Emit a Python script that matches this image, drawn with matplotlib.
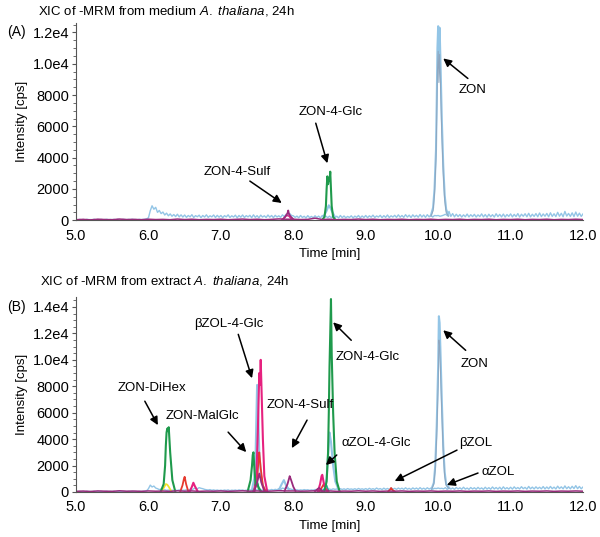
import numpy as np
import matplotlib
matplotlib.use("Agg")
import matplotlib.pyplot as plt
from matplotlib.ticker import FixedLocator, MultipleLocator

plt.rcParams['font.family'] = ['Liberation Sans', 'DejaVu Sans']
plt.rcParams['font.size'] = 9
plt.rcParams['mathtext.fontset'] = 'custom'
plt.rcParams['mathtext.rm'] = 'Liberation Sans'
plt.rcParams['mathtext.it'] = 'Liberation Sans:italic'

# colours of the MRM traces
c_blue = '#93c5e6'
c_steel = '#8ea6bf'
c_green = '#1f9a4c'
c_purple = '#9a2a7c'
c_pink = '#e6217f'
c_red = '#e63a2e'
c_yellow = '#f2e22a'
c_teal = '#2aa597'

# ---------------- (A) medium ----------------
# light blue baseline, sampled every 0.025 min from 5.000 to 12.000
a_blue_start, a_blue_step = 5.0, 0.025
a_blue_base = [40, 25, 50, 30, 45, 20, 55, 35, 40, 30, 60, 25, 45, 35, 50, 30, 40, 55, 30, 45,
               35, 50, 25, 60, 40, 30, 55, 45, 30, 50, 40, 65, 35, 45, 30, 55, 40, 50, 60, 90,
               150, 600, 920, 700, 820, 500, 620, 420, 520, 330, 450, 280, 400, 250, 360, 230, 380, 210, 340, 200,
               330, 180, 300, 210, 350, 170, 290, 220, 320, 160, 300, 200, 340, 180, 280, 210, 330, 170, 310, 190,
               300, 160, 290, 210, 340, 170, 280, 200, 320, 150, 300, 190, 330, 170, 290, 210, 310, 160, 340, 180,
               290, 150, 320, 200, 280, 170, 330, 190, 300, 160, 310, 200, 280, 180, 340, 220, 380, 260, 430, 300,
               280, 180, 260, 150, 300, 170, 250, 140, 290, 160, 240, 150, 280, 170, 260, 140, 300, 180, 260, 160,
               260, 150, 290, 170, 250, 140, 300, 160, 270, 150, 240, 170, 280, 140, 260, 180, 300, 150, 270, 170,
               300, 160, 280, 190, 320, 170, 270, 200, 310, 160, 290, 180, 330, 170, 280, 200, 310, 180, 340, 190,
               300, 180, 350, 200, 320, 170, 340, 210, 310, 190, 360, 200, 330, 180, 350, 210, 320, 200, 300, 280,
               300, 250, 280, 320, 380, 300, 560, 240, 420, 210, 380, 230, 360, 200, 340, 220, 390, 210, 350, 230,
               370, 200, 340, 230, 400, 210, 360, 190, 380, 220, 350, 200, 410, 230, 370, 210, 390, 200, 360, 240,
               400, 210, 370, 230, 420, 200, 380, 250, 410, 220, 440, 210, 380, 240, 420, 220, 460, 230, 400, 250,
               430, 220, 470, 240, 410, 230, 500, 250, 440, 220, 560, 260, 430, 240, 470, 230, 520, 250, 450, 240,
               400]
a_zon_t = [9.90, 9.93, 9.95, 9.97, 9.98, 9.99, 10.00, 10.01, 10.02, 10.03, 10.05, 10.07, 10.09, 10.11, 10.14]
a_zon_i = [300, 800, 2000, 4500, 7500, 11000, 12400, 10000, 12300, 10500, 6500, 3500, 1600, 700, 300]
a_zon2_i = [250, 600, 1700, 3900, 6500, 9500, 10800, 8800, 10600, 9000, 5500, 3000, 1300, 500, 250]
a_blue_glc_t = [8.42, 8.46, 8.49, 8.51, 8.53, 8.57]
a_blue_glc_i = [250, 600, 950, 800, 600, 250]
a_green_t = [8.40, 8.43, 8.45, 8.46, 8.47, 8.48, 8.49, 8.50, 8.51, 8.52, 8.53, 8.55, 8.58]
a_green_i = [30, 200, 900, 2000, 2800, 2300, 2600, 2500, 3100, 2000, 900, 200, 30]
# purple baseline, every 0.1 min from 5.0 to 12.0
a_purple_start, a_purple_step = 5.0, 0.1
a_purple_base = [30, 50, 20, 60, 40, 30, 70, 40, 50, 30,
                 60, 40, 50, 30, 70, 40, 60, 30, 50, 40,
                 60, 30, 50, 70, 40, 60, 30, 50, 80, 60,
                 60, 40, 50, 130, 40, 60, 30, 50, 40, 70,
                 40, 60, 30, 50, 40, 60, 30, 50, 40, 60,
                 30, 50, 40, 60, 30, 50, 40, 60, 30, 50,
                 40, 60, 30, 50, 40, 60, 30, 50, 40, 60, 40]
a_sulf_t = [7.86, 7.90, 7.92, 7.93, 7.94, 7.96, 8.00]
a_sulf_i = [60, 300, 450, 620, 400, 250, 60]
a_pink_t = [7.84, 7.89, 7.91, 7.94, 7.98]
a_pink_i = [40, 200, 320, 250, 40]

# ---------------- (B) extract ----------------
b_blue_start, b_blue_step = 5.0, 0.025
b_blue_base = [40, 25, 50, 30, 45, 20, 55, 35, 40, 30, 55, 25, 45, 35, 50, 30, 40, 55, 30, 45,
               35, 50, 25, 55, 40, 30, 50, 45, 30, 50, 40, 60, 35, 45, 30, 55, 40, 50, 60, 90,
               250, 520, 380, 450, 300, 250, 180, 220, 140, 170, 120, 150, 100, 140, 110, 130, 120, 160, 110, 140,
               130, 170, 140, 200, 160, 250, 300, 240, 330, 280, 250, 200, 170, 150, 180, 130, 160, 120, 150, 110,
               140, 110, 150, 120, 160, 100, 140, 120, 150, 110, 160, 130, 150, 110, 140, 120, 160, 130, 180, 150,
               170, 140, 160, 130, 180, 150, 170, 140, 190, 150, 200, 170, 250, 180, 300, 250, 350, 220, 250, 200,
               180, 150, 170, 130, 160, 140, 180, 150, 170, 130, 160, 140, 190, 150, 170, 160, 200, 170, 180, 200,
               220, 180, 240, 200, 230, 170, 250, 190, 240, 180, 260, 200, 230, 190, 250, 180, 270, 200, 240, 190,
               260, 180, 280, 200, 250, 190, 300, 210, 260, 180, 290, 200, 270, 190, 310, 210, 280, 200, 300, 220,
               290, 200, 320, 210, 280, 190, 310, 220, 300, 200, 330, 210, 290, 200, 320, 220, 300, 210, 280, 260,
               300, 260, 280, 240, 330, 200, 350, 220, 310, 200, 340, 230, 320, 210, 360, 220, 300, 200, 340, 230,
               320, 210, 350, 230, 310, 200, 360, 220, 330, 210, 380, 230, 340, 220, 360, 200, 390, 230, 330, 220,
               360, 220, 390, 240, 340, 230, 400, 250, 350, 220, 420, 240, 370, 230, 390, 250, 360, 240, 410, 230,
               380, 240, 420, 250, 370, 230, 440, 260, 390, 240, 460, 250, 400, 240, 430, 260, 480, 250, 420, 240,
               380]
b_blue_peak_t = [[7.43, 7.46, 7.48, 7.49, 7.50, 7.51, 7.53, 7.56, 7.60],
                 [7.80, 7.84, 7.87, 7.90, 7.94],
                 [8.43, 8.46, 8.48, 8.50, 8.52, 8.55, 8.58, 8.62],
                 [9.91, 9.94, 9.96, 9.98, 10.00, 10.01, 10.02, 10.03, 10.05, 10.07, 10.09, 10.11, 10.15]]
b_blue_peak_i = [[200, 1000, 3000, 5500, 8100, 7000, 3000, 800, 200],
                 [150, 600, 900, 500, 200],
                 [200, 1000, 2800, 4500, 3800, 2000, 800, 250],
                 [250, 700, 2000, 5000, 9500, 13300, 12800, 11000, 7000, 3500, 1500, 600, 300]]
b_zon2_i = [200, 600, 1700, 4200, 8000, 11500, 11000, 9500, 6000, 3000, 1200, 500, 250]
b_green_t = [[6.17, 6.21, 6.23, 6.24, 6.25, 6.26, 6.27, 6.28, 6.30, 6.33, 6.37],
             [7.37, 7.41, 7.43, 7.44, 7.45, 7.46, 7.48, 7.50, 7.52, 7.55],
             [8.43, 8.46, 8.48, 8.49, 8.50, 8.51, 8.52, 8.53, 8.55, 8.57, 8.60, 8.64]]
b_green_i = [[40, 600, 2000, 3500, 4500, 4800, 4600, 4900, 3000, 900, 40],
             [40, 900, 2000, 2800, 3000, 2000, 500, 700, 300, 40],
             [40, 800, 3000, 6000, 9500, 12000, 14600, 10500, 6000, 3000, 800, 40]]
b_yellow_t = [6.17, 6.21, 6.24, 6.26, 6.28, 6.32]
b_yellow_i = [0, 300, 600, 550, 400, 0]
b_red_t = [[6.44, 6.47, 6.49, 6.50, 6.52, 6.55],
           [7.46, 7.50, 7.52, 7.53, 7.55, 7.58, 7.62],
           [8.36, 8.40, 8.42, 8.44, 8.48],
           [9.31, 9.34, 9.35, 9.37, 9.40]]
b_red_i = [[40, 500, 1000, 1150, 600, 40],
           [40, 800, 2500, 3000, 1800, 500, 40],
           [40, 400, 600, 300, 40],
           [40, 200, 300, 150, 40]]
b_pink_t = [[6.57, 6.60, 6.62, 6.64, 6.68],
            [7.46, 7.49, 7.51, 7.53, 7.54, 7.55, 7.56, 7.58, 7.60, 7.64],
            [8.34, 8.37, 8.39, 8.40, 8.42, 8.44, 8.47]]
b_pink_i = [[40, 400, 700, 450, 40],
            [40, 1200, 4500, 9000, 8100, 10000, 8000, 4000, 1200, 40],
            [40, 600, 1200, 1300, 700, 300, 40]]
b_teal_t = [[7.44, 7.48, 7.50, 7.52, 7.56], [8.40, 8.44, 8.46, 8.49]]
b_teal_i = [[40, 500, 800, 400, 40], [40, 300, 500, 40]]
b_purple_base = [50, 70, 40, 80, 60, 50, 90, 60, 70, 50,
                 80, 60, 70, 50, 90, 60, 80, 50, 70, 60,
                 80, 50, 70, 90, 60, 80, 50, 70, 100, 80,
                 80, 60, 70, 90, 60, 80, 50, 70, 60, 90,
                 60, 80, 50, 70, 60, 80, 50, 70, 60, 80,
                 50, 70, 60, 80, 50, 70, 60, 80, 50, 70,
                 60, 80, 50, 70, 60, 80, 50, 70, 60, 80, 60]
b_purple_t = [[7.46, 7.50, 7.53, 7.56, 7.60],
              [7.88, 7.92, 7.94, 7.95, 7.97, 8.00, 8.03],
              [8.30, 8.34, 8.36, 8.40]]
b_purple_i = [[60, 700, 1400, 700, 60],
              [80, 600, 1000, 1200, 900, 400, 80],
              [60, 250, 300, 60]]

# annotations: text, text centre, arrow tail, arrow tip
a_notes = [("ZON-4-Sulf", (7.22, 3060), (7.40, 2500), (7.84, 1100)),
           ("ZON-4-Glc", (8.51, 6890), (8.31, 6200), (8.47, 3640)),
           ("ZON", (10.47, 8300), (10.41, 9060), (10.07, 10340))]
b_notes = [("ZON-DiHex", (6.05, 7855), (5.95, 6870), (6.13, 5060)),
           ("ZON-MalGlc", (6.75, 5740), (7.10, 4530), (7.35, 3020)),
           ("\u03b2ZOL-4-Glc", (7.11, 12690), (7.24, 11930), (7.43, 8610)),
           ("ZON-4-Sulf", (8.09, 6570), (8.19, 5440), (7.98, 3320)),
           ("ZON-4-Glc", (9.03, 10200), (8.80, 11480), (8.55, 12840)),
           ("ZON", (10.50, 9670), (10.38, 10720), (10.07, 12240)),
           ("\u03b1ZOL-4-Glc", (9.14, 3700), (8.60, 2800), (8.45, 2040)),
           ("\u03b2ZOL", (10.52, 3700), (10.26, 3170), (9.40, 830)),
           ("\u03b1ZOL", (10.83, 1510), (10.55, 1435), (10.12, 530))]


def grid(start, step, vals):
    return start + step * np.arange(len(vals))


def style_axes(ax, ymax, yticks, ylabels):
    ax.set_xlim(5.0, 12.0)
    ax.set_ylim(0, ymax)
    ax.spines['top'].set_visible(False)
    ax.spines['right'].set_visible(False)
    ax.spines['left'].set_color('#555555')
    ax.spines['bottom'].set_color('#555555')
    ax.set_xticks([5, 6, 7, 8, 9, 10, 11, 12])
    ax.set_xticklabels(['5.0', '6.0', '7.0', '8.0', '9.0', '10.0', '11.0', '12.0'])
    ax.yaxis.set_major_locator(FixedLocator(yticks))
    ax.set_yticklabels(ylabels)
    ax.yaxis.set_minor_locator(MultipleLocator(500))
    ax.tick_params(axis='x', length=0, pad=6, labelsize=10.5)
    ax.tick_params(axis='y', which='major', length=3, pad=2, labelsize=10.5, color='#555555')
    ax.tick_params(axis='y', which='minor', length=2, color='#555555')
    ax.set_xlabel('Time [min]', fontsize=9.5, labelpad=4)
    ax.set_ylabel('Intensity [cps]', fontsize=9.5, labelpad=3)


def annotate(ax, notes):
    for text, xy_text, xy_tail, xy_tip in notes:
        ax.text(xy_text[0], xy_text[1], text, ha='center', va='center', fontsize=9.5)
        ax.annotate('', xy=xy_tip, xytext=xy_tail,
                    arrowprops=dict(arrowstyle='-|>', color='black', lw=1.1,
                                    mutation_scale=12, shrinkA=0, shrinkB=0))


fig = plt.figure(figsize=(6.0, 5.37), dpi=100)
lw = 1.0
pk = 1.5

# ---- panel A
ax1 = fig.add_axes([0.1267, 0.590, 0.845, 0.367])
ax1.plot(grid(a_blue_start, a_blue_step, a_blue_base), a_blue_base, color=c_blue, lw=lw)
ax1.plot(a_zon_t, a_zon_i, color=c_blue, lw=pk)
ax1.plot(a_zon_t, a_zon2_i, color=c_steel, lw=0.7)
ax1.plot(a_blue_glc_t, a_blue_glc_i, color=c_blue, lw=pk)
ax1.plot(a_green_t, a_green_i, color=c_green, lw=pk)
ax1.plot(a_pink_t, a_pink_i, color=c_pink, lw=1.0)
ax1.plot(grid(a_purple_start, a_purple_step, a_purple_base), a_purple_base, color=c_purple, lw=1.1)
ax1.plot(a_sulf_t, a_sulf_i, color=c_purple, lw=1.3)
style_axes(ax1, 12600, [0, 2000, 4000, 6000, 8000, 10000, 12000],
           ['0', '2000', '4000', '6000', '8000', '1.0e4', '1.2e4'])
annotate(ax1, a_notes)
fig.text(0.278, 0.979, 'XIC of -MRM from medium $\\mathit{A.\\ thaliana}$, 24h',
         ha='center', va='center', fontsize=9.5)
fig.text(0.012, 0.94, '(A)', ha='left', va='center', fontsize=10)

# ---- panel B
ax2 = fig.add_axes([0.1267, 0.0838, 0.845, 0.363])
ax2.plot(grid(b_blue_start, b_blue_step, b_blue_base), b_blue_base, color=c_blue, lw=lw)
for t, v in zip(b_blue_peak_t, b_blue_peak_i):
    ax2.plot(t, v, color=c_blue, lw=pk)
ax2.plot(b_blue_peak_t[3], b_zon2_i, color=c_steel, lw=0.7)
ax2.plot(b_yellow_t, b_yellow_i, color=c_yellow, lw=1.3)
for t, v in zip(b_teal_t, b_teal_i):
    ax2.plot(t, v, color=c_teal, lw=1.1)
for t, v in zip(b_red_t, b_red_i):
    ax2.plot(t, v, color=c_red, lw=1.3)
for t, v in zip(b_pink_t, b_pink_i):
    ax2.plot(t, v, color=c_pink, lw=pk)
for t, v in zip(b_green_t, b_green_i):
    ax2.plot(t, v, color=c_green, lw=pk)
ax2.plot(grid(a_purple_start, a_purple_step, b_purple_base), b_purple_base, color=c_purple, lw=1.1)
for t, v in zip(b_purple_t, b_purple_i):
    ax2.plot(t, v, color=c_purple, lw=1.3)
style_axes(ax2, 14750, [0, 2000, 4000, 6000, 8000, 10000, 12000, 14000],
           ['0', '2000', '4000', '6000', '8000', '1.0e4', '1.2e4', '1.4e4'])
annotate(ax2, b_notes)
fig.text(0.275, 0.477, 'XIC of -MRM from extract $\\mathit{A.\\ thaliana}$, 24h',
         ha='center', va='center', fontsize=9.5)
fig.text(0.012, 0.428, '(B)', ha='left', va='center', fontsize=10)

fig.savefig('out.png', dpi=100)
